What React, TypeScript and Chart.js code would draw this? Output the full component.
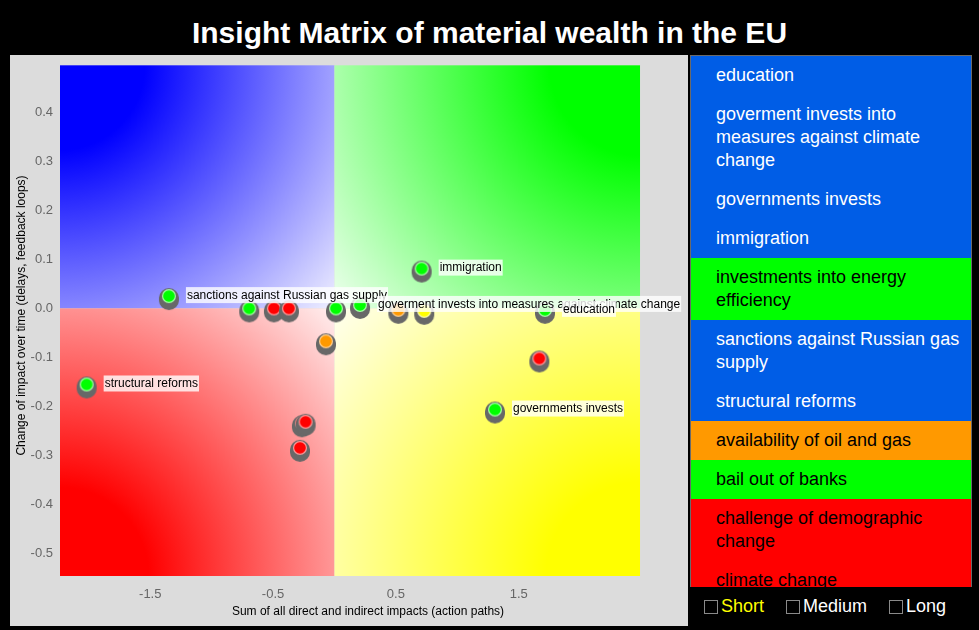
import React, { useEffect, useRef } from "react";
import { Chart, registerables } from "chart.js";

Chart.register(...registerables);

const TITLE = "Insight Matrix of material wealth in the EU";
const X_TITLE = "Sum of all direct and indirect impacts (action paths)";
const Y_TITLE = "Change of impact over time (delays, feedback loops)";

const X_TICKS = [-1.5, -0.5, 0.5, 1.5];
const Y_TICKS = [-0.5, -0.4, -0.3, -0.2, -0.1, 0, 0.1, 0.2, 0.3, 0.4];
const X_RANGE = [-2.235, 2.781];
const Y_RANGE = [-0.545, 0.516];
const BG_X = [-2.235, 2.488];
const BG_Y = [-0.545, 0.495];

const POINT_X = [-2.018, -1.348, -0.694, -0.493, -0.371, -0.069, -0.265, -0.235, -0.281, 0.012, 0.52, 0.731, 0.208, 1.714, 0.71, 1.668, 1.307];
const POINT_Y = [-0.155, 0.025, 0.0, 0.0, 0.0, -0.067, -0.234, -0.231, -0.284, 0.0, -0.003, -0.005, 0.007, -0.003, 0.081, -0.102, -0.206];
const POINT_COLOR = ["green", "green", "green", "red", "red", "orange", "red", "red", "red", "green", "orange", "yellow", "green", "green", "green", "red", "green"];
const POINT_LABEL = [
  "structural reforms",
  "sanctions against Russian gas supply",
  "", "", "", "", "", "", "", "", "", "",
  "goverment invests into measures against climate change",
  "education",
  "immigration",
  "",
  "governments invests",
];

const LEGEND_ITEMS = [
  "education",
  "goverment invests into measures against climate change",
  "governments invests",
  "immigration",
  "investments into energy efficiency",
  "sanctions against Russian gas supply",
  "structural reforms",
  "availability of oil and gas",
  "bail out of banks",
  "challenge of demographic change",
  "climate change",
];
const LEGEND_COLOR = ["blue", "blue", "blue", "blue", "green", "blue", "blue", "orange", "green", "red", "red"];
const CHECK_LABELS = ["Short", "Medium", "Long"];
const CHECK_COLORS = ["#ffff00", "#ffffff", "#ffffff"];

const MARK_FILL: Record<string, string> = { green: "#00ff00", red: "#ff0000", orange: "#ff9900", yellow: "#ffff00" };
const MARK_RING: Record<string, string> = { green: "#a6ffa6", red: "#ff9a9a", orange: "#ffcf8f", yellow: "#ffffa8" };
const LEGEND_BG: Record<string, string> = { blue: "#005de6", green: "#00ff00", orange: "#ff9900", red: "#ff0000" };
const LEGEND_FG: Record<string, string> = { blue: "#ffffff", green: "#000000", orange: "#000000", red: "#000000" };

const FONT = '"Liberation Sans", Arial, Helvetica, sans-serif';

function makeMarker(color: string): HTMLCanvasElement {
  const c = document.createElement("canvas");
  c.width = 24;
  c.height = 34;
  const g = c.getContext("2d")!;
  const cx = 12, cy = 17;
  g.fillStyle = "#686868";
  g.beginPath(); g.arc(cx, cy + 2, 10, 0, Math.PI * 2); g.fill();
  g.beginPath(); g.arc(cx, cy + 4, 10, 0, Math.PI * 2); g.fill();
  g.fillRect(cx - 10, cy + 2, 20, 2);
  g.fillStyle = MARK_RING[color];
  g.beginPath(); g.arc(cx, cy, 7, 0, Math.PI * 2); g.fill();
  g.fillStyle = MARK_FILL[color];
  g.beginPath(); g.arc(cx, cy, 5.8, 0, Math.PI * 2); g.fill();
  return c;
}

const quadrantPlugin = {
  id: "quadrants",
  beforeDatasetsDraw(chart: any) {
    const { ctx, scales } = chart;
    const x = scales.x, y = scales.y;
    const xl = x.getPixelForValue(BG_X[0]);
    const xm = x.getPixelForValue(0);
    const xr = x.getPixelForValue(BG_X[1]);
    const yt = y.getPixelForValue(BG_Y[1]);
    const ym = y.getPixelForValue(0);
    const yb = y.getPixelForValue(BG_Y[0]);
    const quads = [
      { l: xl, t: yt, r: xm, b: ym, cx: xl, cy: yt, c: "#0000ff" },
      { l: xm, t: yt, r: xr, b: ym, cx: xr, cy: yt, c: "#00ff00" },
      { l: xl, t: ym, r: xm, b: yb, cx: xl, cy: yb, c: "#ff0000" },
      { l: xm, t: ym, r: xr, b: yb, cx: xr, cy: yb, c: "#ffff00" },
    ];
    ctx.save();
    for (const q of quads) {
      const diag = Math.hypot(q.r - q.l, q.b - q.t);
      const grad = ctx.createRadialGradient(q.cx, q.cy, 0, q.cx, q.cy, diag * 1.05);
      grad.addColorStop(0, q.c);
      grad.addColorStop(0.22, q.c);
      grad.addColorStop(1, "#ffffff");
      ctx.fillStyle = grad;
      ctx.fillRect(q.l, q.t, q.r - q.l, q.b - q.t);
    }
    ctx.restore();
  },
  afterDatasetsDraw(chart: any) {
    const { ctx, scales } = chart;
    const x = scales.x, y = scales.y;
    ctx.save();
    ctx.font = "12px " + FONT;
    ctx.textBaseline = "middle";
    ctx.textAlign = "left";
    POINT_LABEL.forEach((lab, i) => {
      if (!lab) return;
      const px = x.getPixelForValue(POINT_X[i]) + 18;
      const py = y.getPixelForValue(POINT_Y[i]) - 1;
      const w = ctx.measureText(lab).width;
      ctx.fillStyle = "rgba(255,255,255,0.8)";
      ctx.fillRect(px - 1, py - 8, w + 2, 16);
      ctx.fillStyle = "#000000";
      ctx.fillText(lab, px, py + 0.5);
    });
    ctx.restore();
  },
};

function MatrixChart() {
  const ref = useRef<HTMLCanvasElement | null>(null);
  useEffect(() => {
    if (!ref.current) return;
    const markers = POINT_COLOR.map((c) => makeMarker(c));
    const chart = new Chart(ref.current, {
      type: "scatter",
      data: {
        datasets: [
          {
            data: POINT_X.map((v, i) => ({ x: v, y: POINT_Y[i] })),
            pointStyle: markers as any,
            pointRadius: 10,
            clip: false as any,
          },
        ],
      },
      options: {
        animation: false,
        responsive: false,
        devicePixelRatio: 1,
        events: [],
        layout: { autoPadding: false, padding: { left: 0, right: 12, top: 0, bottom: 0 } },
        plugins: { legend: { display: false }, tooltip: { enabled: false } },
        scales: {
          x: {
            type: "linear",
            min: X_RANGE[0],
            max: X_RANGE[1],
            afterBuildTicks: (s: any) => { s.ticks = X_TICKS.map((v) => ({ value: v })); },
            afterFit: (s: any) => { s.height = 50; s.paddingLeft = 0; s.paddingRight = 0; },
            grid: { display: false, drawTicks: false },
            border: { display: false },
            ticks: {
              padding: 11,
              color: "#666666",
              font: { family: FONT, size: 13 },
              callback: (v: any) => Number(v).toFixed(1),
              maxRotation: 0,
              autoSkip: false,
            },
            title: { display: true, text: X_TITLE, color: "#000000", font: { family: FONT, size: 12 }, padding: { top: 0, bottom: 7 } },
          },
          y: {
            type: "linear",
            min: Y_RANGE[0],
            max: Y_RANGE[1],
            afterBuildTicks: (s: any) => { s.ticks = Y_TICKS.map((v) => ({ value: v })); },
            afterFit: (s: any) => { s.width = 50; s.paddingTop = 0; s.paddingBottom = 0; },
            grid: { display: false, drawTicks: false },
            border: { display: false },
            ticks: {
              padding: 7,
              color: "#666666",
              font: { family: FONT, size: 13 },
              callback: (v: any) => Number(v).toFixed(1),
              autoSkip: false,
            },
            title: { display: true, text: Y_TITLE, color: "#000000", font: { family: FONT, size: 12 }, padding: { top: 4, bottom: 0 } },
          },
        },
      },
      plugins: [quadrantPlugin],
    });
    return () => chart.destroy();
  }, []);
  return (
    <canvas
      ref={ref}
      width={678}
      height={571}
      style={{ position: "absolute", left: 10, top: 55, width: 678, height: 571, background: "#dcdcdc" }}
    />
  );
}

export default function App() {
  return (
    <div style={{ position: "fixed", left: 0, top: 0, width: 979, height: 630, background: "#000", overflow: "hidden", fontFamily: FONT }}>
      <div
        style={{
          position: "absolute", left: 0, top: 18, width: 979, textAlign: "center",
          color: "#fff", fontWeight: "bold", fontSize: 30, lineHeight: "30px", whiteSpace: "nowrap",
        }}
      >
        {TITLE}
      </div>
      <MatrixChart />
      <div
        style={{
          position: "absolute", left: 690, top: 55, width: 282, height: 532, overflow: "hidden",
          boxSizing: "border-box", borderTop: "1px solid #6a6a6a", borderLeft: "1px solid #6a6a6a", borderRight: "1px solid #6a6a6a",
          background: "#ff0000",
        }}
      >
        {LEGEND_ITEMS.map((t, i) => (
          <div
            key={i}
            style={{
              background: LEGEND_BG[LEGEND_COLOR[i]], color: LEGEND_FG[LEGEND_COLOR[i]],
              fontSize: 18, lineHeight: "23px", padding: "8px 8px 8px 25px",
            }}
          >
            {t}
          </div>
        ))}
      </div>
      <div style={{ position: "absolute", left: 704, top: 597, display: "flex", gap: 22, fontSize: 18, lineHeight: "18px" }}>
        {CHECK_LABELS.map((t, i) => (
          <div key={i} style={{ display: "flex", alignItems: "flex-start" }}>
            <span style={{ display: "inline-block", width: 14, height: 14, boxSizing: "border-box", border: "1px solid #8a8a8a", marginTop: 3, marginRight: 3, background: "#000" }} />
            <span style={{ color: CHECK_COLORS[i] }}>{t}</span>
          </div>
        ))}
      </div>
    </div>
  );
}
